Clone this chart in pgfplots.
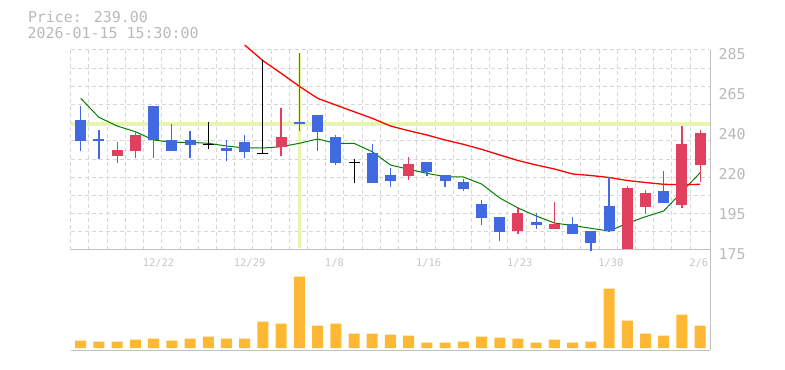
\documentclass[border=0pt]{standalone}
\usepackage{pgfplots}
\pgfplotsset{compat=1.18}
\usepackage{pgfplotstable}
\usepackage{fontspec}
\setmainfont{DejaVu Sans}
\newfontfamily\mono{DejaVu Sans Mono}
\definecolor{cblue}{RGB}{65,105,225}
\definecolor{cred}{RGB}{224,64,94}
\definecolor{cvol}{RGB}{255,184,51}
\definecolor{cgrid}{RGB}{215,215,215}
\definecolor{caxis}{RGB}{192,192,192}
\definecolor{ccross}{RGB}{232,245,176}
\definecolor{ctext}{RGB}{185,185,185}
\definecolor{cdate}{RGB}{198,198,198}
\definecolor{cgreen}{RGB}{0,128,0}
\definecolor{cma}{RGB}{255,0,0}

% down candles (blue): open above close
\pgfplotstableread{
x open close high low
0 246.5 235.1 254.2 229.6
1 236.05 235.1 241.0 224.9
4 254.2 235.7 254.2 225.8
5 235.5 229.6 244.3 229.6
6 235.5 232.9 240.45 225.8
8 231.1 229.6 235.5 224.1
9 234.4 229.1 238.25 225.8
12 245.4 244.1 283.5 240.6
13 249.25 240.1 249.25 229.6
14 237.15 223.0 238.1 221.9
16 228.35 212.0 233.3 212.0
17 216.25 213.1 220.1 209.8
19 223.4 218.1 223.4 215.9
20 216.25 213.1 216.25 209.8
21 212.2 208.7 213.9 207.6
22 200.3 192.8 202.5 188.9
23 193.15 185.1 193.15 180.1
25 190.6 188.9 195.35 186.7
27 189.3 184.0 193.3 184.0
28 185.45 179.0 185.45 174.6
29 199.2 185.45 215.15 185.1
32 207.45 201.0 218.45 201.0
}\down
% up candles (red): close above open
\pgfplotstableread{
x open close high low
2 226.9 230.0 234.4 223.0
3 229.6 238.25 240.45 225.8
11 231.65 237.15 253.1 226.9
18 215.9 222.3 226.15 213.7
24 185.6 195.35 198.65 184.0
26 186.7 189.5 201.4 186.7
30 175.55 209.1 210.2 175.55
31 198.8 206.35 208.0 194.8
33 199.75 233.3 243.2 197.9
34 221.75 239.35 241.0 212.55
}\up
% doji candles (black)
\pgfplotstableread{
x close high low
7 233.1 245.4 230.7
10 227.95 279.5 227.95
15 223.0 224.9 212.0
}\doji
% short moving average
\pgfplotstableread{
x ma
0 258.43
1 247.98
2 243.2
3 240.06
4 235.5
5 234.23
6 234.23
7 233.68
8 232.2
9 231.1
10 231.1
11 231.81
12 233.68
13 236.05
14 233.68
15 233.68
16 229.06
17 221.75
18 219.38
19 217.18
20 215.31
21 215.15
22 211.3
23 203.6
24 198.1
25 193.7
26 189.85
27 188.47
28 186.93
29 185.45
30 189.68
31 193.31
32 196.45
33 207.0
34 217.5
}\mafast
% long moving average
\pgfplotstableread{
x ma
9 287.75
10 279.11
11 272.18
12 265.03
13 258.43
14 254.75
15 251.06
16 247.43
17 243.2
18 240.61
19 238.25
20 235.5
21 233.13
22 230.38
23 227.25
24 224.22
25 221.75
26 219.55
27 216.8
28 215.97
29 214.87
30 213.22
31 212.12
32 211.13
33 210.91
34 211.13
}\maslow
% volume
\pgfplotstableread{
x v
0 7.3
1 6.3
2 6.3
3 8.3
4 9.3
5 7.3
6 9.3
7 11.3
8 9.3
9 9.3
10 26.3
11 24.3
12 71.3
13 22.3
14 24.3
15 14.3
16 14.3
17 13.3
18 12.3
19 5.3
20 5.3
21 6.3
22 11.3
23 10.3
24 9.3
25 5.3
26 8.3
27 5.3
28 6.3
29 59.3
30 27.3
31 14.3
32 12.3
33 33.3
34 22.3
}\vol

\pgfplotsset{
  base/.style={
    scale only axis, width=639.3bp,
    xmin=-0.55, xmax=34.54,
    minor xtick={-0.55,0.45,...,33.45},
    xminorgrids,
    minor grid style={cgrid, dash pattern=on 4bp off 3bp, line width=1bp},
    major tick length=0pt, minor tick length=0pt,
    axis x line*=bottom, axis y line*=right,
    x axis line style={-}, y axis line style={-},
    axis line style={caxis, line width=1bp},
  },
  candle/.style 2 args={draw=none, mark=none, forget plot,
    error bars/.cd, y dir=plus, y explicit, error mark=none,
    error bar style={draw=#1, line width=#2}},
}

\begin{document}
\begin{tikzpicture}
\path[use as bounding box] (0,0) rectangle (785bp,370bp);
\node[anchor=base west, inner sep=0pt, font=\mono\fontsize{15}{15}\selectfont, text=ctext] at (27.8bp,347bp) {Price: 239.00};
\node[anchor=base west, inner sep=0pt, font=\mono\fontsize{15}{15}\selectfont, text=ctext] at (27.5bp,331.5bp) {2026-01-15 15:30:00};

\begin{axis}[base,
  at={(70.7bp,120bp)}, anchor=south west, height=200bp,
  ymin=175, ymax=285,
  ytick={175,197,219,241,263,285},
  yticklabels={175,195,220,240,265,285},
  minor ytick={175,185,...,285},
  yminorgrids,
  yticklabel pos=right,
  yticklabel style={anchor=north west, inner sep=0pt, xshift=8.5bp, yshift=2bp, font=\mono\fontsize{15}{15}\selectfont, text=ctext},
  xtick={3.45,8.45,13.45,18.45,23.45,28.45,33.45},
  xticklabels={12/22,12/29,1/8,1/16,1/23,1/30,2/6},
  xticklabel style={anchor=north west, inner sep=0pt, yshift=-9bp, xshift=-1bp, font=\mono\fontsize{10.5}{10.5}\selectfont, text=cdate},
  clip=false,
]
% crosshair
\addplot[ccross, line width=3.3bp, mark=none] coordinates {(-0.55,244.3) (34.54,244.3)};
\addplot[ccross, line width=3bp, mark=none] coordinates {(12,175.9) (12,283.5)};
% moving averages
\addplot[cgreen, line width=1bp, mark=none] table[x=x, y=ma] {\mafast};
\addplot[cma, line width=1.3bp, mark=none] table[x=x, y=ma] {\maslow};
% wicks
\addplot[candle={cblue}{1.3bp}]
  table[x=x, y=low, y error plus expr={\thisrow{high}-\thisrow{low}}] {\down};
\addplot[candle={cred}{1.3bp}]
  table[x=x, y=low, y error plus expr={\thisrow{high}-\thisrow{low}}] {\up};
\addplot[candle={black}{1bp}]
  table[x=x, y=low, y error plus expr={\thisrow{high}-\thisrow{low}}] {\doji};
% bodies
\addplot[candle={cblue}{11bp}]
  table[x=x, y=close, y error plus expr={\thisrow{open}-\thisrow{close}}] {\down};
\addplot[candle={cred}{11bp}]
  table[x=x, y=open, y error plus expr={\thisrow{close}-\thisrow{open}}] {\up};
\addplot[only marks, mark=-, mark size=5.5bp, black, line width=1bp] table[x=x, y=close] {\doji};
\end{axis}

\begin{axis}[base,
  at={(70.7bp,20bp)}, anchor=south west, height=100bp,
  ymin=-2, ymax=98,
  ytick=\empty, xtick=\empty,
]
\addplot[ybar, bar width=11bp, fill=cvol, draw=none] table[x=x, y=v] {\vol};
\end{axis}
\end{tikzpicture}
\end{document}
